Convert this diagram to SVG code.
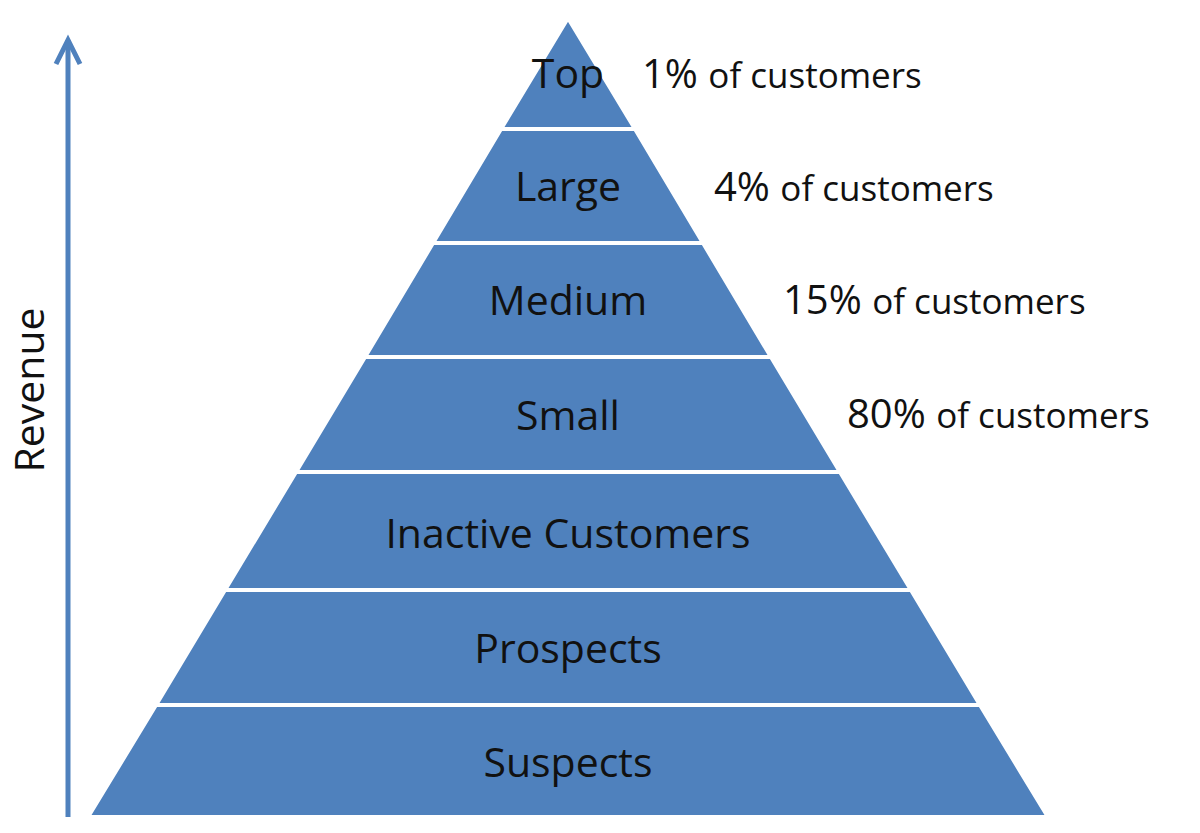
<svg xmlns="http://www.w3.org/2000/svg" width="1200" height="833" viewBox="0 0 1200 833">
<style>
.band{fill:#4f81bd;stroke:#fff;stroke-width:4}
.lbl{font-family:"Open Sans","Liberation Sans",Arial,sans-serif;font-size:41px;fill:#111;text-anchor:middle}
.pct{font-family:"Open Sans","Liberation Sans",Arial,sans-serif;font-size:40px;fill:#111}
.of{font-size:35px}
</style>
<rect width="1200" height="833" fill="#fff"/>
<g id="connectors" stroke="#4f81bd" stroke-width="5" fill="none"><line x1="68" y1="817" x2="68" y2="40"/><path d="M56,64 L68,40 L80,64"/></g>
<text class="lbl" transform="translate(44,390) rotate(-90)">Revenue</text>
<g id="top"><polygon class="band" points="568,18 635,129 501,129"/><text class="lbl" x="568" y="88">Top</text></g>
<g id="large"><polygon class="band" points="501,129 635,129 703,243 433,243"/><text class="lbl" x="568" y="201">Large</text></g>
<g id="medium"><polygon class="band" points="433,243 703,243 771,357 365,357"/><text class="lbl" x="568" y="315">Medium</text></g>
<g id="small"><polygon class="band" points="365,357 771,357 840,472 296,472"/><text class="lbl" x="568" y="430">Small</text></g>
<g id="inactive"><polygon class="band" points="296,472 840,472 911,590 225,590"/><text class="lbl" x="568" y="548">Inactive Customers</text></g>
<g id="prospects"><polygon class="band" points="225,590 911,590 980,705 156,705"/><text class="lbl" x="568" y="663">Prospects</text></g>
<g id="suspects"><polygon class="band" points="156,705 980,705 1048,817 88,817"/><text class="lbl" x="568" y="777">Suspects</text></g>
<text class="pct" x="642" y="88">1% <tspan class="of">of customers</tspan></text>
<text class="pct" x="714" y="201">4% <tspan class="of">of customers</tspan></text>
<text class="pct" x="783" y="314">15% <tspan class="of">of customers</tspan></text>
<text class="pct" x="847" y="428">80% <tspan class="of">of customers</tspan></text>
</svg>
